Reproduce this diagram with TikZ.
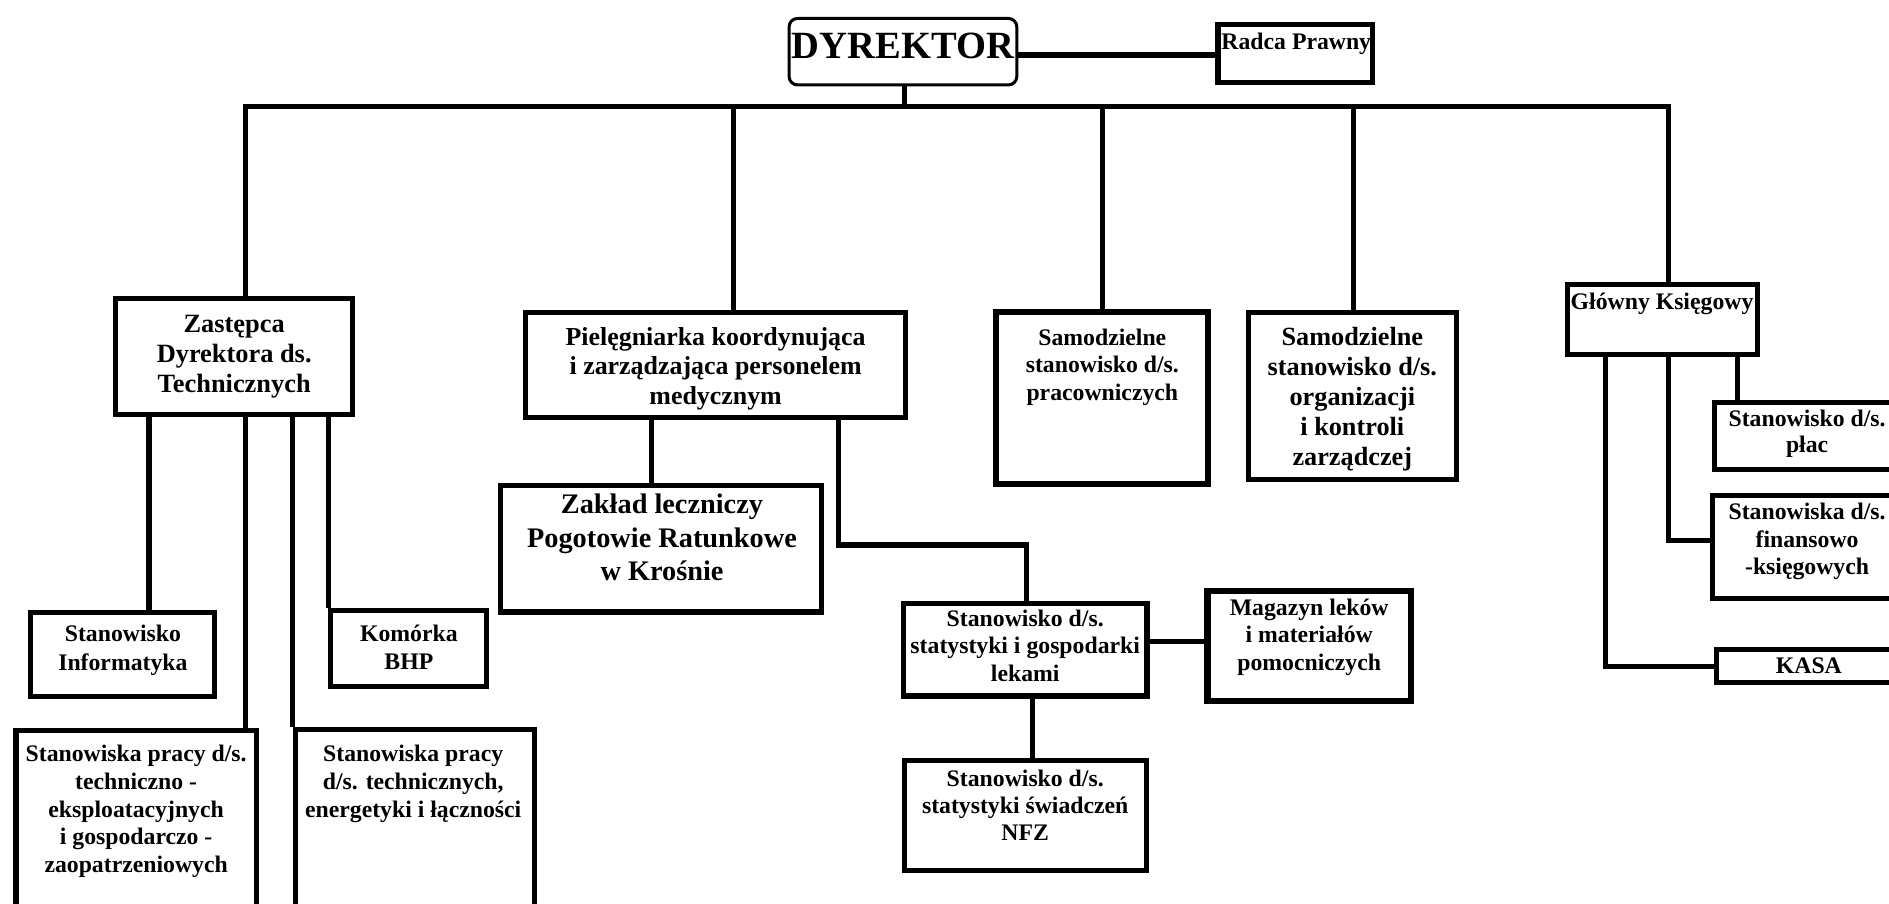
\documentclass[tikz,border=0pt]{standalone}
\usepackage{fontspec}
\setmainfont{Liberation Serif}
\tikzset{
  box/.style={draw, line width=4.2pt, inner sep=0pt},
  thickbox/.style={line width=5pt},
  conn/.style={line width=4.2pt},
  txt/.style={anchor=base, inner sep=0pt, font=\bfseries}
}
% [options]{name}{x1}{y1}{x2}{y2}
\newcommand\obox[6][]{\node[box,minimum width={(#5-#3-4)*1pt},minimum height={(#6-#4-4)*1pt},#1] (#2) at ({(#3+#5)/2},{(#4+#6)/2}) {};}
% {name}{x}{baseline}{size}{skip}{lines}
\newcommand\otext[6]{\node[txt] (#1) at (#2,#3) {\fontsize{#4pt}{#5pt}\selectfont\begin{tabular}[t]{@{}c@{}}#6\end{tabular}};}
\begin{document}
\begin{tikzpicture}[x=1pt,y=-1pt]
\clip (0,0) rectangle (1568,750);
\fill[white] (0,0) rectangle (1568,750);

% boxes
\obox[line width=2.5pt, rounded corners=7pt]{dyr}{653}{13.3}{846}{72.5}
\obox{radca}{1009}{18}{1141.4}{70.6}
\obox{zast}{94}{245.7}{294.7}{345.9}
\obox{piel}{434.4}{257.3}{754}{348.6}
\obox[thickbox]{samp}{825.1}{257.3}{1005}{404}
\obox{samo}{1034}{257.3}{1211.1}{400}
\obox{glow}{1299}{233.8}{1461}{296.6}
\obox{info}{23.5}{506.4}{180.4}{580.5}
\obox{bhp}{272.5}{505}{406.2}{572.2}
\obox{spa}{11.3}{604}{215}{770}
\obox{spb}{243}{603.2}{445.5}{770}
\obox{zak}{413.7}{401.2}{684}{510}
\obox{stat}{747.7}{498.7}{954.1}{579.7}
\obox[thickbox]{mag}{1000.3}{488.4}{1173}{583.9}
\obox{nfz}{748.5}{629.5}{954}{724.5}
\obox{plac}{1420.8}{332}{1590}{391.5}
\obox{fin}{1419.5}{409}{1590}{498.6}
\obox{kasa}{1422.8}{536.8}{1590}{568.6}

% texts
\otext{tdyr}{749.5}{48.5}{32}{36}{DYREKTOR}
\otext{tradca}{1076}{41}{19.7}{23}{Radca Prawny}
\otext{tzast}{194.4}{276.1}{21.9}{25}{Zastępca\\Dyrektora ds.\\Technicznych}
\otext{tpiel}{594}{286.4}{21.5}{24.5}{Pielęgniarka koordynująca\\i zarządzająca personelem\\medycznym}
\otext{tsamp}{915}{286.4}{19.7}{23}{Samodzielne\\stanowisko d/s.\\pracowniczych}
\otext{tsamo}{1122.5}{286.4}{21.8}{25}{Samodzielne\\stanowisko d/s.\\organizacji\\i kontroli\\zarządczej}
\otext{tglow}{1379.6}{256.8}{19.7}{23}{Główny Księgowy}
\otext{tinfo}{102}{532.6}{19.7}{23.6}{Stanowisko\\Informatyka}
\otext{tbhp}{339.4}{532.6}{19.7}{23}{Komórka\\BHP}
\otext{tspa}{113}{632.3}{19.7}{23}{Stanowiska pracy d/s.\\techniczno -\\eksploatacyjnych\\i gospodarczo -\\zaopatrzeniowych}
\otext{tspb}{343}{632.3}{19.7}{23}{Stanowiska pracy\\d/s. technicznych,\\energetyki i łączności}
\otext{tzak}{549.5}{426.1}{23.5}{28}{Zakład leczniczy\\Pogotowie Ratunkowe\\w Krośnie}
\otext{tstat}{851}{519.7}{19.7}{22.9}{Stanowisko d/s.\\statystyki i gospodarki\\lekami}
\otext{tmag}{1086.7}{510.6}{19.7}{23}{Magazyn leków\\i materiałów\\pomocniczych}
\otext{tnfz}{851}{652.5}{19.7}{22.5}{Stanowisko d/s.\\statystyki świadczeń\\NFZ}
\otext{tplac}{1500}{354.2}{19.7}{21.6}{Stanowisko d/s.\\płac}
\otext{tfin}{1500}{431.1}{19.7}{23}{Stanowiska d/s.\\finansowo\\-księgowych}
\otext{tkasa}{1501.5}{559}{19.7}{23}{KASA}

% connectors
\coordinate (busL) at (203.4,88.5);
\coordinate (busR) at (1384.8,88.5);
\draw[line width=5pt] (dyr.east |- 0,45.6) -- (radca.west |- 0,45.6);
\draw[conn] (dyr.south -| 750.8,0) -- (busL -| 750.8,0);
\draw[conn] (zast.north -| busL) -- (busL) -- (busR) -- (glow.north -| busR);
\draw[conn] (busL -| 608.7,0) -- (piel.north -| 608.7,0);
\draw[conn] (busL -| 915.3,0) -- (samp.north -| 915.3,0);
\draw[conn] (busL -| 1123.4,0) -- (samo.north -| 1123.4,0);

\draw[conn] (zast.south -| 123.7,0) -- (info.north -| 123.7,0);
\draw[conn] (zast.south -| 203.4,0) -- (spa.north -| 203.4,0);
\draw[conn] (zast.south -| spb.north west) -- (spb.north west);
\draw[conn] (zast.south -| bhp.north west) -- (bhp.north west);

\draw[conn] (piel.south -| 540.4,0) -- (zak.north -| 540.4,0);
\coordinate (pbend) at (695.9,452.4);
\draw[conn] (piel.south -| pbend) -- (pbend) -| (stat.north -| 852.3,0);
\draw[conn] (stat.east |- 0,532.7) -- (mag.west |- 0,532.7);
\draw[conn] (stat.south -| 857,0) -- (nfz.north -| 857,0);

\draw[conn] (glow.south -| 1332.3,0) |- (kasa.west |- 0,553.4);
\draw[conn] (glow.south -| 1384.8,0) |- (fin.west |- 0,448.8);
\draw[conn] (glow.south -| 1442.4,0) -- (plac.north -| 1442.4,0);
\end{tikzpicture}
\end{document}
